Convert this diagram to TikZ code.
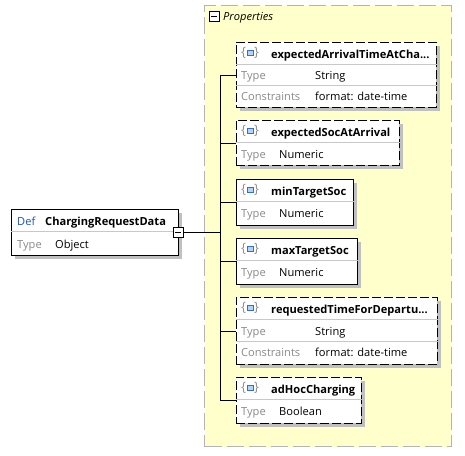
\documentclass[tikz,border=0pt]{standalone}
\usepackage{fontspec}
\setmainfont{Open Sans}
\usetikzlibrary{shadows}

\definecolor{groupfill}{HTML}{FFFFCC}
\definecolor{groupframe}{HTML}{B4B4B4}
\definecolor{shade}{HTML}{C0C0C0}
\definecolor{defblue}{HTML}{1E50C8}
\definecolor{labelgray}{HTML}{8A8A8A}
\definecolor{rulegray}{HTML}{C8C8C8}
\definecolor{iconblue}{HTML}{2F6FD8}
\definecolor{iconfill}{HTML}{B8D4F4}
\definecolor{bracegray}{HTML}{909090}

\newcommand{\txtsize}{\fontsize{11.1}{13}\selectfont}

\tikzset{
  group/.style={draw=groupframe, line width=1.2pt, dash pattern=on 17pt off 5pt,
    fill=groupfill, rectangle, inner sep=0pt, anchor=north west},
  box/.style={draw=black, line width=0.9pt, fill=white, rectangle, inner sep=0pt,
    anchor=north west,
    drop shadow={shadow xshift=4pt, shadow yshift=-4pt, fill=shade, opacity=1}},
  optbox/.style={box, dash pattern=on 9pt off 3pt},
  title/.style={font=\txtsize\bfseries, anchor=base west, inner sep=0pt},
  key/.style={font=\txtsize, text=labelgray, anchor=base west, inner sep=0pt},
  val/.style={font=\txtsize, anchor=base west, inner sep=0pt},
  deflabel/.style={font=\txtsize, text=defblue, anchor=base west, inner sep=0pt},
  grouplabel/.style={font=\txtsize\itshape, anchor=base west, inner sep=0pt},
  toggle/.style={draw=black, line width=0.8pt, fill=white, rectangle, inner sep=0pt,
    minimum width=10pt, minimum height=10pt,
    path picture={\draw[line width=0.8pt] ([xshift=2pt]path picture bounding box.west)
      -- ([xshift=-2pt]path picture bounding box.east);}},
  rowrule/.style={draw=rulegray, line width=0.8pt},
  wire/.style={draw=black, line width=0.9pt},
  propicon/.pic={
    \node[font=\fontsize{13}{14}\selectfont, text=bracegray, inner sep=0pt] at (-6.5,0) {\{};
    \node[font=\fontsize{13}{14}\selectfont, text=bracegray, inner sep=0pt] at (6.5,0) {\}};
    \draw[draw=iconblue, fill=iconfill, line width=0.9pt] (-3,-2.5) rectangle (3,2.5);
  }
}

\begin{document}
\begin{tikzpicture}[x=1pt, y=-1pt]
\useasboundingbox (0,0) rectangle (465,455);

% group of properties
\node[group, minimum width=247pt, minimum height=441pt] (props) at (204,5) {};
\node[toggle] (propsToggle) at (214,16) {};
\node[grouplabel] (propsLabel) at (223,20.5) {Properties};

% spine of the sequence
\coordinate (spine) at (220,0);

% root element
\node[box, minimum width=167pt, minimum height=46pt] (root) at (11,209) {};
\draw[rowrule] (11,231) -- (178,231);
\node[deflabel] (rootDef) at (17,225) {Def};
\node[title] (rootName) at (45,225) {ChargingRequestData};
\node[key] (rootTypeKey) at (17,248) {Type};
\node[val] (rootType) at (55,248) {Object};
\node[toggle] (rootToggle) at (178,232) {};

% property boxes
\node[optbox, minimum width=200pt, minimum height=65pt] (p1) at (236,42) {};
\node[optbox, minimum width=163pt, minimum height=45pt] (p2) at (236,120) {};
\node[box,    minimum width=117pt, minimum height=46pt] (p3) at (236,179) {};
\node[box,    minimum width=121pt, minimum height=46pt] (p4) at (236,238) {};
\node[optbox, minimum width=201pt, minimum height=67pt] (p5) at (236,297) {};
\node[optbox, minimum width=125pt, minimum height=46pt] (p6) at (236,377) {};

% header rules, row rules and icons
\foreach \b in {p1,p2,p3,p4,p5,p6}{
  \draw[rowrule] ([yshift=-22pt]\b.north west) -- ([yshift=-22pt]\b.north east);
  \pic at ([xshift=14pt, yshift=-11pt]\b.north west) {propicon};
}
\draw[rowrule] ([yshift=-43pt]p1.north west) -- ([yshift=-43pt]p1.north east);
\draw[rowrule] ([yshift=-44pt]p5.north west) -- ([yshift=-44pt]p5.north east);

% p1
\node[title] (p1Name) at (271,58.5) {expectedArrivalTimeAtCha...};
\node[key] (p1TypeKey) at (241,79) {Type};
\node[val] (p1Type) at (315,79) {String};
\node[key] (p1ConKey) at (241,100.5) {Constraints};
\node[val] (p1Con) at (315,100.5) {format: date-time};

% p2
\node[title] (p2Name) at (271,136.5) {expectedSocAtArrival};
\node[key] (p2TypeKey) at (241,158) {Type};
\node[val] (p2Type) at (279,158) {Numeric};

% p3
\node[title] (p3Name) at (271,195.5) {minTargetSoc};
\node[key] (p3TypeKey) at (241,217) {Type};
\node[val] (p3Type) at (279,217) {Numeric};

% p4
\node[title] (p4Name) at (271,254.5) {maxTargetSoc};
\node[key] (p4TypeKey) at (241,276) {Type};
\node[val] (p4Type) at (279,276) {Numeric};

% p5
\node[title] (p5Name) at (271,313.5) {requestedTimeForDepartu...};
\node[key] (p5TypeKey) at (241,335) {Type};
\node[val] (p5Type) at (315,335) {String};
\node[key] (p5ConKey) at (241,356.5) {Constraints};
\node[val] (p5Con) at (315,356.5) {format: date-time};

% p6
\node[title] (p6Name) at (271,393.5) {adHocCharging};
\node[key] (p6TypeKey) at (241,415) {Type};
\node[val] (p6Type) at (279,415) {Boolean};

% connectors
\draw[wire] (rootToggle.east) -- (spine |- rootToggle.east);
\draw[wire] (spine |- p1.west) -- (spine |- p6.west);
\foreach \b in {p1,p2,p3,p4,p5,p6}{
  \draw[wire] (spine |- \b.west) -- (\b.west);
}
\end{tikzpicture}
\end{document}
